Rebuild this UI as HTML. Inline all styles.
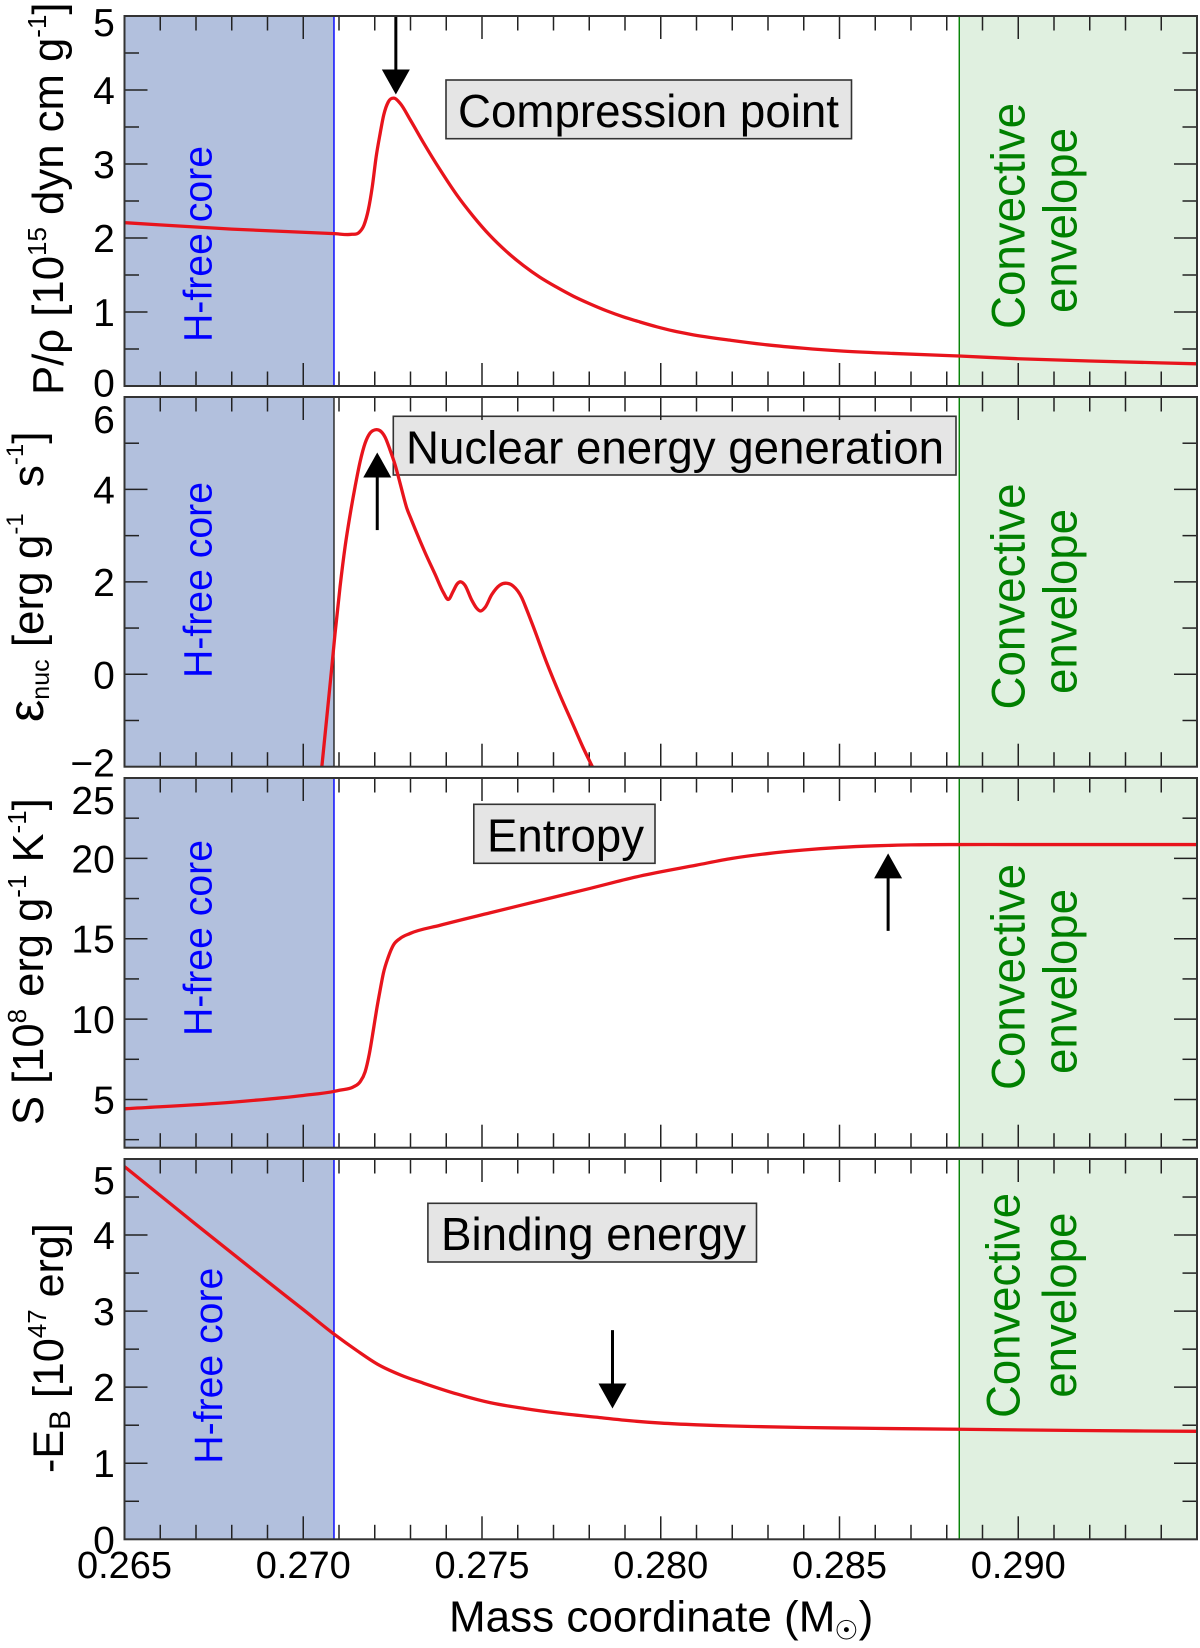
<!DOCTYPE html>
<html lang="en">
<head>
<meta charset="utf-8">
<title>Stellar profiles versus mass coordinate</title>
<style>
  html, body { margin: 0; padding: 0; background: #fff; }
  svg { display: block; }
  text { font-family: "Liberation Sans", "DejaVu Sans", sans-serif; }
</style>
</head>
<body>
<svg id="figure" xmlns="http://www.w3.org/2000/svg" width="1200" height="1648" viewBox="0 0 1200 1648">
  <rect x="0" y="0" width="1200" height="1648" fill="#ffffff"/>
  <g id="plots"></g>

  <g fill="#000">
    <text transform="translate(63,395) rotate(-90)" font-size="43.7">P/ρ [10<tspan font-size="26" dy="-17">15</tspan><tspan dy="17"> dyn cm g</tspan><tspan font-size="26" dy="-17">-1</tspan><tspan dy="17">]</tspan></text>
    <text transform="translate(43,722) rotate(-90)" font-size="44"><tspan font-size="50">ε</tspan><tspan font-size="25" dy="6">nuc</tspan><tspan dy="-6"> [erg g</tspan><tspan font-size="24" dy="-20">-1</tspan><tspan dy="20" dx="14"> s</tspan><tspan font-size="24" dy="-20">-1</tspan><tspan dy="20">]</tspan></text>
    <text transform="translate(43,1125) rotate(-90)" font-size="43.5">S [10<tspan font-size="26" dy="-17">8</tspan><tspan dy="17"> erg g</tspan><tspan font-size="26" dy="-17">-1</tspan><tspan dy="17"> K</tspan><tspan font-size="26" dy="-17">-1</tspan><tspan dy="17">]</tspan></text>
    <text transform="translate(63,1473) rotate(-90)" font-size="43">-E<tspan font-size="30" dy="7">B</tspan><tspan dy="-7"> [10</tspan><tspan font-size="26" dy="-17">47</tspan><tspan dy="17"> erg]</tspan></text>
  </g>

  <text x="449" y="1631.5" font-size="44" fill="#000">Mass coordinate (M<tspan font-size="27" dy="8" dx="-1" font-family="'DejaVu Sans', sans-serif">☉</tspan><tspan dy="-8">)</tspan></text>
</svg>

<script>
// ---------- shared axis data ----------
const massMajorTicks = [0.265, 0.270, 0.275, 0.280, 0.285, 0.290, 0.295];
const massTickLabels = ['0.265', '0.270', '0.275', '0.280', '0.285', '0.290'];
const massMinorPerMajor = 5;
const coreBoundaryMass = 0.27086;
const envelopeBoundaryMass = 0.28835;

// ---------- panel 1: P/rho ----------
const compressionMass = [0.265, 0.268, 0.27086, 0.27136, 0.27155, 0.27170, 0.27182, 0.27193, 0.27204, 0.27215, 0.27225, 0.27238, 0.27254, 0.27271, 0.27299, 0.27336, 0.27383, 0.27429, 0.27476, 0.27522, 0.27569, 0.27616, 0.27662, 0.27709, 0.27755, 0.27802, 0.27849, 0.27895, 0.27942, 0.27989, 0.28035, 0.28082, 0.282, 0.283, 0.284, 0.285, 0.2865, 0.28835, 0.290, 0.292, 0.295];
const compressionValues = [2.207, 2.12, 2.059, 2.05, 2.07, 2.175, 2.38, 2.69, 3.10, 3.41, 3.66, 3.84, 3.89, 3.82, 3.60, 3.29, 2.92, 2.585, 2.29, 2.035, 1.815, 1.628, 1.47, 1.335, 1.215, 1.11, 1.015, 0.935, 0.865, 0.80, 0.745, 0.70, 0.615, 0.555, 0.51, 0.475, 0.44, 0.405, 0.368, 0.338, 0.30];
const compressionMajorTicks = [0, 1, 2, 3, 4, 5];
const compressionMinorTicks = [0.5, 1.5, 2.5, 3.5, 4.5];
const compressionTickLabels = ['0', '1', '2', '3', '4', '5'];

// ---------- panel 2: nuclear energy ----------
const nuclearMass = [0.27052, 0.27066, 0.2708, 0.27089, 0.27103, 0.27117, 0.27131, 0.27145, 0.27159, 0.27173, 0.27187, 0.27201, 0.27215, 0.27229, 0.27243, 0.27257, 0.27271, 0.2728, 0.27289, 0.27301, 0.27313, 0.27341, 0.27369, 0.27392, 0.27406, 0.27419, 0.2743, 0.27441, 0.27452, 0.27471, 0.27485, 0.27495, 0.27509, 0.27527, 0.2755, 0.27569, 0.27587, 0.27611, 0.27625, 0.27644, 0.27681, 0.27718, 0.27755, 0.27783, 0.2781];
const nuclearValues = [-2.0, -0.92, 0.165, 0.887, 1.896, 2.76, 3.45, 4.06, 4.60, 5.0, 5.22, 5.29, 5.27, 5.13, 4.85, 4.53, 4.13, 3.86, 3.61, 3.37, 3.14, 2.63, 2.16, 1.77, 1.62, 1.79, 1.95, 2.0, 1.93, 1.61, 1.43, 1.37, 1.45, 1.72, 1.93, 1.97, 1.91, 1.66, 1.40, 1.02, 0.25, -0.448, -1.097, -1.59, -2.02];
const nuclearMajorTicks = [-2, 0, 2, 4, 6];
const nuclearMinorTicks = [-1, 1, 3, 5];
const nuclearTickLabels = ['\u22122', '0', '2', '4', '6'];

// ---------- panel 3: entropy ----------
const entropyMass = [0.265, 0.268, 0.270, 0.27086, 0.27103, 0.2714, 0.27159, 0.27173, 0.27185, 0.27196, 0.27205, 0.27215, 0.27224, 0.27238, 0.27252, 0.27271, 0.27299, 0.27383, 0.27522, 0.27662, 0.27802, 0.27942, 0.281, 0.282, 0.283, 0.284, 0.285, 0.286, 0.287, 0.28835, 0.290, 0.295];
const entropyValues = [4.42, 4.83, 5.25, 5.50, 5.58, 5.78, 6.1, 6.72, 7.86, 9.31, 10.56, 11.8, 12.84, 13.87, 14.6, 15.02, 15.33, 15.84, 16.61, 17.37, 18.13, 18.9, 19.58, 20.0, 20.3, 20.52, 20.68, 20.78, 20.84, 20.86, 20.86, 20.86];
const entropyMajorTicks = [5, 10, 15, 20, 25];
const entropyMinorTicks = [2.5, 7.5, 12.5, 17.5, 22.5];
const entropyTickLabels = ['5', '10', '15', '20', '25'];

// ---------- panel 4: binding energy ----------
const bindingMass = [0.265, 0.266, 0.267, 0.268, 0.269, 0.270, 0.27086, 0.27151, 0.27207, 0.27273, 0.27338, 0.27431, 0.27524, 0.27618, 0.2771, 0.2783, 0.279, 0.280, 0.281, 0.282, 0.284, 0.286, 0.28835, 0.2917, 0.295];
const bindingValues = [4.90, 4.52, 4.14, 3.765, 3.39, 3.02, 2.698, 2.478, 2.304, 2.159, 2.05, 1.909, 1.795, 1.72, 1.66, 1.60, 1.565, 1.528, 1.505, 1.49, 1.47, 1.458, 1.447, 1.43, 1.42];
const bindingMajorTicks = [0, 1, 2, 3, 4, 5];
const bindingMinorTicks = [0.5, 1.5, 2.5, 3.5, 4.5];
const bindingTickLabels = ['0', '1', '2', '3', '4', '5'];

// ---------- annotation arrows: mass, tail value, tip value ----------
const compressionArrow = [0.27259, 5.0, 3.94];
const nuclearArrow = [0.27207, 3.12, 4.80];
const entropyArrow = [0.28636, 15.49, 20.31];
const bindingArrow = [0.27865, 2.75, 1.72];

// ---------- layout ----------
const plotLeft = 124.5, plotRight = 1197, massMin = 0.265, massMax = 0.295;
const xAxis = m => plotLeft + (m - massMin) / (massMax - massMin) * (plotRight - plotLeft);
const makeYAxis = (top, bottom, min, max) => v => bottom - (v - min) / (max - min) * (bottom - top);

const SVGNS = 'http://www.w3.org/2000/svg';
const root = document.getElementById('plots');
function make(tag, parent, props, content) {
  const el = document.createElementNS(SVGNS, tag);
  for (const k in props) el.setAttribute(k, props[k]);
  if (content !== undefined) el.textContent = content;
  parent.appendChild(el);
  return el;
}

// smooth Hermite path, monotone in x
function curvePath(xs, ys) {
  const n = xs.length, s = [];
  for (let i = 0; i < n; i++) {
    if (i === 0) s.push((ys[1] - ys[0]) / (xs[1] - xs[0]));
    else if (i === n - 1) s.push((ys[i] - ys[i - 1]) / (xs[i] - xs[i - 1]));
    else {
      const h0 = xs[i] - xs[i - 1], h1 = xs[i + 1] - xs[i];
      const d0 = (ys[i] - ys[i - 1]) / h0, d1 = (ys[i + 1] - ys[i]) / h1;
      s.push((d0 * h1 + d1 * h0) / (h0 + h1));
    }
  }
  let d = 'M' + xs[0].toFixed(2) + ' ' + ys[0].toFixed(2);
  for (let i = 0; i < n - 1; i++) {
    const h = (xs[i + 1] - xs[i]) / 3;
    d += ' C' + (xs[i] + h).toFixed(2) + ' ' + (ys[i] + s[i] * h).toFixed(2) + ' ' +
         (xs[i + 1] - h).toFixed(2) + ' ' + (ys[i + 1] - s[i + 1] * h).toFixed(2) + ' ' +
         xs[i + 1].toFixed(2) + ' ' + ys[i + 1].toFixed(2);
  }
  return d;
}

const panels = [
  { id: 'compression', top: 16, bottom: 386, min: 0, max: 5, mass: compressionMass, values: compressionValues,
    major: compressionMajorTicks, minor: compressionMinorTicks, labels: compressionTickLabels, arrow: compressionArrow,
    topShift: 20, bottomShift: 10.7, coreLine: '#0000ff',
    box: { x: 446, y: 80, w: 405.5, h: 58.7, text: 'Compression point', tx: 458, ty: 127, len: 381 },
    core: { x: 211.5, y: 342, len: 196 },
    conv: { x: 1024.5, y: 329, len: 226 }, env: { x: 1076.5, y: 313, len: 185 } },
  { id: 'nuclear', top: 397, bottom: 766.7, min: -2, max: 6, mass: nuclearMass, values: nuclearValues,
    major: nuclearMajorTicks, minor: nuclearMinorTicks, labels: nuclearTickLabels, arrow: nuclearArrow,
    topShift: 36, bottomShift: 10, coreLine: '#222222',
    box: { x: 393.3, y: 416.3, w: 562.7, h: 58.7, text: 'Nuclear energy generation', tx: 406, ty: 463.5, len: 538 },
    core: { x: 211.5, y: 678, len: 196 },
    conv: { x: 1024.5, y: 709.5, len: 226 }, env: { x: 1076.5, y: 694, len: 185 } },
  { id: 'entropy', top: 778, bottom: 1147.7, min: 2, max: 25, mass: entropyMass, values: entropyValues,
    major: entropyMajorTicks, minor: entropyMinorTicks, labels: entropyTickLabels, arrow: entropyArrow,
    topShift: 36, bottomShift: 14, coreLine: '#0000ff',
    box: { x: 473.8, y: 804.3, w: 181.2, h: 59, text: 'Entropy', tx: 487, ty: 851.5, len: 157 },
    core: { x: 211.5, y: 1036, len: 196 },
    conv: { x: 1024.5, y: 1090, len: 226 }, env: { x: 1076.5, y: 1074, len: 185 } },
  { id: 'binding', top: 1159, bottom: 1539.3, min: 0, max: 5, mass: bindingMass, values: bindingValues,
    major: bindingMajorTicks, minor: bindingMinorTicks, labels: bindingTickLabels, arrow: bindingArrow,
    topShift: 35, bottomShift: 14, coreLine: '#0000ff',
    box: { x: 427.9, y: 1203.3, w: 328.6, h: 58.7, text: 'Binding energy', tx: 441, ty: 1250, len: 305 },
    core: { x: 222, y: 1463.7, len: 196 },
    conv: { x: 1019.5, y: 1418, len: 225 }, env: { x: 1076, y: 1397.7, len: 185 } }
];

const majorLen = 23, minorLen = 14.5, tickColor = '#222222';

panels.forEach(function (p) {
  const yAxis = makeYAxis(p.top, p.bottom, p.min, p.max);
  const g = make('g', root, {});
  
  

  const clipId = 'clip-' + p.id;
  const clip = make('clipPath', g, { id: clipId });
  make('rect', clip, { x: plotLeft, y: p.top, width: plotRight - plotLeft, height: p.bottom - p.top });

  const coreBand = make('rect', g, { x: plotLeft, y: p.top, width: xAxis(coreBoundaryMass) - plotLeft, height: p.bottom - p.top, fill: '#b2c0dd' });
  
  

  const envBand = make('rect', g, { x: xAxis(envelopeBoundaryMass), y: p.top, width: plotRight - xAxis(envelopeBoundaryMass), height: p.bottom - p.top, fill: '#e0f0e0' });
  
  

  // annotation box
  const boxGroup = make('g', g, {});
  
  
  make('rect', boxGroup, { x: p.box.x, y: p.box.y, width: p.box.w, height: p.box.h, fill: '#e5e5e5', stroke: '#333333', 'stroke-width': 1.6 });
  make('text', boxGroup, { x: p.box.tx, y: p.box.ty, 'font-size': 46, fill: '#000', textLength: p.box.len, lengthAdjust: 'spacingAndGlyphs' }, p.box.text);

  // ticks
  const ticks = make('g', g, { stroke: tickColor, 'stroke-width': 1.5 });
  
  
  for (let i = 0; i < massMajorTicks.length - 1; i++) {
    const a = massMajorTicks[i], b = massMajorTicks[i + 1];
    for (let j = 0; j < massMinorPerMajor; j++) {
      const x = xAxis(a + (b - a) * j / massMinorPerMajor);
      const len = j === 0 ? majorLen : minorLen;
      if (i === 0 && j === 0) continue;
      make('line', ticks, { x1: x, x2: x, y1: p.top, y2: p.top + len });
      make('line', ticks, { x1: x, x2: x, y1: p.bottom, y2: p.bottom - len });
    }
  }
  p.major.forEach(function (v) {
    const y = yAxis(v);
    make('line', ticks, { x1: plotLeft, x2: plotLeft + majorLen, y1: y, y2: y });
    make('line', ticks, { x1: plotRight, x2: plotRight - majorLen, y1: y, y2: y });
  });
  p.minor.forEach(function (v) {
    const y = yAxis(v);
    make('line', ticks, { x1: plotLeft, x2: plotLeft + minorLen, y1: y, y2: y });
    make('line', ticks, { x1: plotRight, x2: plotRight - minorLen, y1: y, y2: y });
  });

  // y tick labels
  const labelGroup = make('g', g, { 'font-size': 39, 'text-anchor': 'end', fill: '#000' });
  
  
  p.major.forEach(function (v, i) {
    const y = yAxis(v);
    let shift = 14;
    if (i === p.major.length - 1) shift = p.topShift;
    else if (y === p.bottom) shift = p.bottomShift;
    make('text', labelGroup, { x: 114.8, y: y + shift }, p.labels[i]);
  });

  // boundaries
  const coreLine = make('line', g, { x1: xAxis(coreBoundaryMass), x2: xAxis(coreBoundaryMass), y1: p.top, y2: p.bottom, stroke: p.coreLine, 'stroke-width': 1.4 });
  
  
  const envLine = make('line', g, { x1: xAxis(envelopeBoundaryMass), x2: xAxis(envelopeBoundaryMass), y1: p.top, y2: p.bottom, stroke: '#008000', 'stroke-width': 1.4 });
  
  

  // region labels
  const coreLabel = make('text', g, { transform: 'translate(' + p.core.x + ',' + p.core.y + ') rotate(-90)', 'font-size': 40, fill: '#0000ff', textLength: p.core.len, lengthAdjust: 'spacingAndGlyphs' }, 'H-free core');
  
  
  const convLabel = make('text', g, { transform: 'translate(' + p.conv.x + ',' + p.conv.y + ') rotate(-90)', 'font-size': 47, fill: '#008000', textLength: p.conv.len, lengthAdjust: 'spacingAndGlyphs' }, 'Convective');
  
  
  const envLabel = make('text', g, { transform: 'translate(' + p.env.x + ',' + p.env.y + ') rotate(-90)', 'font-size': 47, fill: '#008000', textLength: p.env.len, lengthAdjust: 'spacingAndGlyphs' }, 'envelope');
  
  

  // series
  const series = make('path', g, {
    d: curvePath(p.mass.map(xAxis), p.values.map(yAxis)),
    fill: 'none', stroke: '#e8141c', 'stroke-width': 3.3, 'stroke-linejoin': 'round', 'clip-path': 'url(#' + clipId + ')'
  });
  
  

  // arrow
  const ax = xAxis(p.arrow[0]), tail = yAxis(p.arrow[1]), tip = yAxis(p.arrow[2]);
  const dir = tip > tail ? 1 : -1;
  const arrow = make('g', g, {});
  
  
  make('line', arrow, { x1: ax, x2: ax, y1: tail, y2: tip - dir * 20, stroke: '#000', 'stroke-width': 3 });
  make('polygon', arrow, { points: (ax - 14) + ',' + (tip - dir * 25) + ' ' + (ax + 14) + ',' + (tip - dir * 25) + ' ' + ax + ',' + tip, fill: '#000' });

  // frame
  const frame = make('rect', g, { x: plotLeft, y: p.top, width: plotRight - plotLeft, height: p.bottom - p.top, fill: 'none', stroke: '#333333', 'stroke-width': 2 });
  
  
});

// x tick labels on the bottom panel
const xLabels = make('g', root, { 'font-size': 38, 'text-anchor': 'middle', fill: '#000' });


massTickLabels.forEach(function (t, i) {
  make('text', xLabels, { x: xAxis(massMajorTicks[i]), y: 1578 }, t);
});
</script>
</body>
</html>
